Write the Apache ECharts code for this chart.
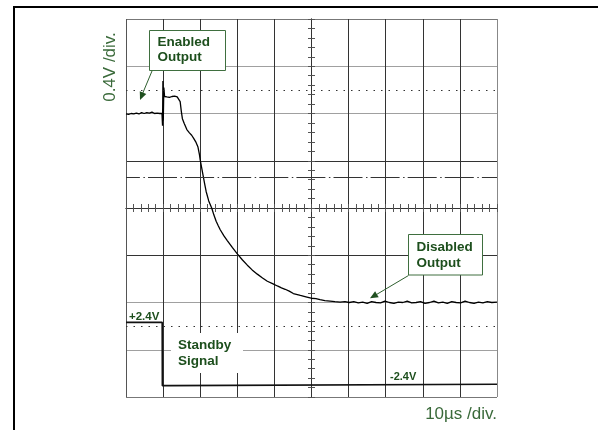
<!DOCTYPE html>
<html><head><meta charset="utf-8">
<script src="https://cdn.jsdelivr.net/npm/echarts@6/dist/echarts.min.js"></script>
<style>html,body{margin:0;padding:0;background:#fff}#c{width:598px;height:430px}</style>
</head><body><div id="c"></div>
<script>
// Time in µs relative to screen centre (10 µs/div), level in divisions (0.4 V/div)
const enabledTime = [-50.0,-49.3,-48.6,-47.9,-47.2,-46.5,-45.8,-45.1,-44.4,-43.7,-43.0,-42.3,-41.6,-40.9,-40.3,
  -40.15,-40.05,-39.95,-39.8,-39.6,-39.0,-38.3,-37.6,-36.9,-36.2,-35.7,-35.4,-35.1,-34.8,-34.3,-33.6,-32.9,-32.3,-31.8,
  -31.2,-30.6,-30.2,-30.0,-29.6,-29.2,-28.8,-28.4,-27.7,-26.9,-26.3,-25.7,-25.1,-24.6,-23.6,-22.7,-21.3,-20.0,-18.6,
  -17.3,-16.0,-14.6,-13.2,-11.9,-10.5,-9.2,-8.1,-7.1,-6.0,-4.9,-3.0,-1.5,-0.1,1.2,2.3,3.6,5.0,6.3,7.7,9.0,
  10.2,11.4,12.6,13.8,15.0,16.2,17.4,18.6,19.8,21.0,22.2,23.4,24.6,25.8,27.0,28.2,29.4,30.6,31.8,33.0,34.2,35.4,
  36.6,37.8,39.0,40.2,41.4,42.6,43.8,45.0,46.2,47.4,48.6,50.0];
const enabledLevel = [1.99,1.98,2.00,1.99,2.01,1.99,2.02,2.00,2.02,2.01,2.03,2.00,2.01,2.00,2.00,
  1.74,2.69,1.85,2.55,2.36,2.35,2.34,2.36,2.37,2.35,2.33,2.25,2.05,1.89,1.79,1.66,1.59,1.54,1.48,
  1.40,1.29,1.13,1.02,0.85,0.68,0.51,0.35,0.15,0.0,-0.15,-0.28,-0.38,-0.46,-0.59,-0.69,-0.84,-0.97,-1.10,
  -1.21,-1.31,-1.40,-1.48,-1.55,-1.60,-1.65,-1.69,-1.72,-1.76,-1.81,-1.85,-1.88,-1.91,-1.92,-1.94,-1.96,-1.97,-1.98,-1.99,-1.98,
  -2.00,-1.98,-2.01,-1.99,-2.02,-1.98,-2.00,-2.01,-1.97,-2.00,-2.02,-1.99,-2.00,-1.97,-2.01,-2.00,-1.98,-2.02,-2.00,-1.97,-2.01,-1.99,
  -2.02,-1.98,-2.00,-2.01,-1.97,-2.00,-2.02,-1.99,-2.01,-1.98,-2.00,-1.99];
const standbyTime = [-50.0,-48.6,-48.4,-48.2,-44.2,-44.0,-43.8,-40.25,-40.2,-38.2,-38.1,50.0];
const standbyLevel = [-2.42,-2.42,-2.45,-2.42,-2.42,-2.45,-2.42,-2.42,-3.76,-3.76,-3.73,-3.73];
const dottedLevels = [2.5, -2.5];
const dashDotLevels = [0.66];
const timeRange = [-50, 50];
const levelRange = [-4, 4];

const GREEN = '#1d4f1d';
const LGREEN = '#3a6a3a';
const FONT = '"Liberation Sans", Arial, sans-serif';

const xSplitColors = ['#555','#333','#333','#333','#333','#333','#333','#333','#333','#333','#888'];
const ySplitColors = ['#777','#a0a0a0','#a0a0a0','#333','#333','#333','#a0a0a0','#a0a0a0','#777'];

const chart = echarts.init(document.getElementById('c'), null, {renderer:'canvas'});

function tickAxis(pos, interval, len) {
  return {type:'value', min:null, max:null, interval: interval, position: pos,
    axisLine:{show:true, onZero:true, onZeroAxisIndex:0, lineStyle:{color:'#333', width:1}},
    axisTick:{show:true, length:len, lineStyle:{color:'#555', width:1}},
    axisLabel:{show:false}, splitLine:{show:false}};
}
const xa0 = {type:'value', min:timeRange[0], max:timeRange[1], interval:10,
  axisLine:{show:false, onZero:false}, axisTick:{show:false}, axisLabel:{show:false},
  splitLine:{show:true, lineStyle:{color:xSplitColors, width:1}}};
const ya0 = {type:'value', min:levelRange[0], max:levelRange[1], interval:1,
  axisLine:{show:false, onZero:false}, axisTick:{show:false}, axisLabel:{show:false},
  splitLine:{show:true, lineStyle:{color:ySplitColors, width:1}}};
const xa1 = tickAxis('bottom', 2, 4); xa1.min = timeRange[0]; xa1.max = timeRange[1];
const xa2 = tickAxis('top', 2, 4); xa2.min = timeRange[0]; xa2.max = timeRange[1];
const ya1 = tickAxis('left', 0.2, 3.5); ya1.min = levelRange[0]; ya1.max = levelRange[1];
const ya2 = tickAxis('right', 0.2, 3.5); ya2.min = levelRange[0]; ya2.max = levelRange[1];

const option = {
  animation:false,
  backgroundColor:'#fff',
  grid:{left:126, top:19, width:371, height:378, containLabel:false},
  xAxis:[xa0, xa1, xa2],
  yAxis:[ya0, ya1, ya2],
  series:[
    {type:'line', name:'refs', data:[], silent:true,
      markLine:{silent:true, symbol:['none','none'], label:{show:false}, animation:false,
        data: dottedLevels.map(v => ({yAxis:v, lineStyle:{type:[1.5,6], color:'#333', width:1}}))
          .concat(dashDotLevels.map(v => ({yAxis:v, lineStyle:{type:[29,3.5,1.5,3.1], dashOffset:15.1, color:'#333', width:1}})))
      }},
    {type:'line', name:'Standby Signal', showSymbol:false, z:3,
      data: standbyTime.map((t,i)=>[t, standbyLevel[i]]),
      lineStyle:{color:'#111', width:1.6}},
    {type:'line', name:'Output', showSymbol:false, z:4,
      data: enabledTime.map((t,i)=>[t, enabledLevel[i]]),
      lineStyle:{color:'#000', width:1.3}}
  ],
  graphic:[
    {type:'rect', silent:true, z:1, shape:{x:14,y:7,width:700,height:600}, style:{fill:'none', stroke:'#000', lineWidth:2}},
    {type:'text', silent:true, z:20, x:110, y:67, rotation:Math.PI/2,
      style:{text:'0.4V /div.', font:'17px '+FONT, fill:LGREEN, align:'center', verticalAlign:'middle'}},
    {type:'text', silent:true, z:20, x:497, y:414,
      style:{text:'10µs /div.', font:'17px '+FONT, fill:LGREEN, align:'right', verticalAlign:'middle'}},
    // Enabled output box + arrow
    {type:'rect', silent:true, z:20, shape:{x:149.5,y:30.5,width:76,height:40}, style:{fill:'#fff', stroke:'#3f6f3f', lineWidth:1}},
    {type:'text', silent:true, z:21, x:157.5, y:50,
      style:{text:'Enabled\nOutput', font:'bold 13.5px '+FONT, fill:GREEN, lineHeight:15, verticalAlign:'middle'}},
    {type:'line', silent:true, z:20, shape:{x1:152,y1:71,x2:142.6,y2:93.5}, style:{stroke:'#2f5f2f', lineWidth:1}},
    {type:'polygon', silent:true, z:20, shape:{points:[[140,100],[146.3,94],[139.8,91.3]]}, style:{fill:'#1f4f1f'}},
    // Disabled output box + arrow
    {type:'rect', silent:true, z:20, shape:{x:408.5,y:234.5,width:74,height:40.5}, style:{fill:'#fff', stroke:'#3f6f3f', lineWidth:1}},
    {type:'text', silent:true, z:21, x:416.5, y:255.5,
      style:{text:'Disabled\nOutput', font:'bold 13.5px '+FONT, fill:GREEN, lineHeight:16, verticalAlign:'middle'}},
    {type:'line', silent:true, z:20, shape:{x1:408.5,y1:275.5,x2:376.5,y2:294.5}, style:{stroke:'#2f5f2f', lineWidth:1}},
    {type:'polygon', silent:true, z:20, shape:{points:[[370,298.3],[378.7,297.2],[375.1,291.2]]}, style:{fill:'#1f4f1f'}},
    // Standby signal labels
    {type:'rect', silent:true, z:20, shape:{x:171,y:333,width:72,height:40}, style:{fill:'#fff'}},
    {type:'text', silent:true, z:21, x:178, y:353.5,
      style:{text:'Standby\nSignal', font:'bold 13.5px '+FONT, fill:GREEN, lineHeight:16.4, verticalAlign:'middle'}},
    {type:'text', silent:true, z:21, x:129, y:316.7,
      style:{text:'+2.4V', font:'bold 11.5px '+FONT, fill:GREEN, verticalAlign:'middle'}},
    {type:'text', silent:true, z:21, x:390, y:376.7,
      style:{text:'-2.4V', font:'bold 11px '+FONT, fill:GREEN, verticalAlign:'middle'}}
  ]
};
chart.setOption(option);
</script>
</body></html>
